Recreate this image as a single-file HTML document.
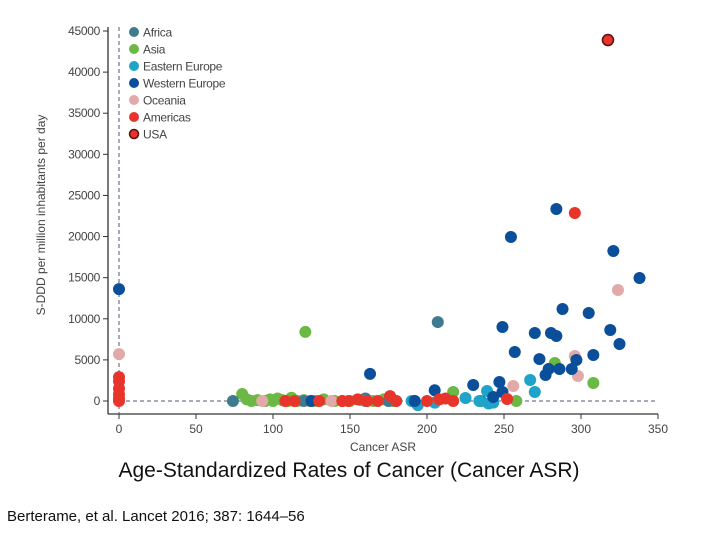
<!DOCTYPE html>
<html><head><meta charset="utf-8">
<style>
body{margin:0;background:#fff;width:720px;height:540px;overflow:hidden;font-family:"Liberation Sans",sans-serif;}
svg{position:absolute;left:0;top:0;}
#title{position:absolute;left:0;width:698px;top:459px;text-align:center;font-size:21px;color:#111;}
#cite{position:absolute;left:7px;top:508px;font-size:15px;color:#111;}
</style></head>
<body>
<svg id="chart" width="720" height="540" xmlns="http://www.w3.org/2000/svg"></svg>
<div id="title">Age-Standardized Rates of Cancer (Cancer ASR)</div>
<div id="cite">Berterame, et al. Lancet 2016; 387: 1644–56</div>
<script>
const regions=["Africa","Asia","Eastern Europe","Western Europe","Oceania","Americas","USA"];
const colors=["#3e7b8e","#6bb944","#1ea4c9","#0b4f9b","#e2a9a9","#e8352b","#e8352b"];
const africaX=[74,120,175,192,207,160,235];
const africaY=[0,0,0,0,9600,300,0];
const asiaX=[121,80,83,86,90,95,98,100,103,106,110,112,116,120,124,128,133,140,145,150,157,165,172,178,217,283,308,258];
const asiaY=[8400,850,200,0,100,0,200,0,300,100,0,400,0,100,0,0,200,0,0,0,100,0,200,0,1100,4620,2190,0];
const eeX=[194,160,180,225,234,239,240,267,270,243,190,205];
const eeY=[-500,0,0,360,0,1220,-300,2550,1100,-200,0,-200];
const weX=[0,163,205,284,254.5,321,338,288,305,249,270,280.5,284,319,325,257,273,308,297,277,279,286,294,230,247,243,249,125,192];
const weY=[13600,3300,1300,23350,19950,18240,14960,11190,10700,9000,8270,8270,7900,8630,6930,5960,5100,5590,4990,3160,3890,3890,3890,1950,2310,490,1100,0,0];
const ocX=[0,93,138,256,296,298,324];
const ocY=[5700,0,0,1820,5470,3040,13500];
const amX=[0,0,0,0,0,0,108,114,130,149,161,176,180,200,208,217,252,296,155,168,145,212];
const amY=[2900,2400,1500,800,300,0,0,0,0,0,0,600,0,0,200,0,240,22860,200,0,0,300];
const usaX=[317.5];
const usaY=[43900];
const xTicks=[0,50,100,150,200,250,300,350];
const yTicks=[0,5000,10000,15000,20000,25000,30000,35000,40000,45000];
const NS="http://www.w3.org/2000/svg";
const svg=document.getElementById('chart');
const sx=v=>119+v*(539/350);
const sy=v=>401-v*(370/45000);
function el(t,a,txt){const e=document.createElementNS(NS,t);for(const k in a)e.setAttribute(k,a[k]);if(txt!==undefined)e.textContent=txt;svg.appendChild(e);return e;}
let e;
e=el('line',{x1:108,y1:27,x2:108,y2:414,stroke:'#333','stroke-width':1.3});

e=el('line',{x1:108,y1:414,x2:658,y2:414,stroke:'#333','stroke-width':1.3});

e=el('line',{x1:119,y1:27,x2:119,y2:414,stroke:'#557','stroke-width':1,'stroke-dasharray':'4,3'});

e=el('line',{x1:119,y1:sy(0),x2:658,y2:sy(0),stroke:'#557','stroke-width':1,'stroke-dasharray':'4,3'});

yTicks.forEach(t=>{
 e=el('line',{x1:103,y1:sy(t),x2:108,y2:sy(t),stroke:'#333'});
 
 e=el('text',{x:100,y:sy(t)+4,'text-anchor':'end','font-size':12,fill:'#444','letter-spacing':'-0.3'},t);
 
});
xTicks.forEach(t=>{
 e=el('line',{x1:sx(t),y1:414,x2:sx(t),y2:419,stroke:'#333'});
 
 e=el('text',{x:sx(t),y:433,'text-anchor':'middle','font-size':12,fill:'#444'},t);
 
});
e=el('text',{x:383,y:451,'text-anchor':'middle','font-size':12,fill:'#444'},'Cancer ASR');

e=el('text',{x:45,y:215,'text-anchor':'middle','font-size':12,fill:'#444',transform:'rotate(-90 45 215)'},'S-DDD per million inhabitants per day');

const series=[[africaX,africaY],[asiaX,asiaY],[eeX,eeY],[weX,weY],[ocX,ocY],[amX,amY],[usaX,usaY]];
const order=[1,0,2,4,3,5,6];
order.forEach(i=>{
 const [xs,ys]=series[i];
 xs.forEach((x,j)=>{
  const a={cx:sx(x),cy:sy(ys[j]),r:6,fill:colors[i]};
  if(i===6){a.stroke='#5a1010';a['stroke-width']=1.5;a.r=5.5;}
  e=el('circle',a);
  
  
 });
});
regions.forEach((r,i)=>{
 const y=32+i*17;
 const a={cx:134,cy:y,r:5,fill:colors[i]};
 if(i===6){a.stroke='#5a1010';a['stroke-width']=1.5;a.r=4.5;}
 e=el('circle',a);
 
 e=el('text',{x:143,y:y+4.5,'font-size':12,fill:'#444','letter-spacing':'-0.3'},r);
 
});
</script>
</body></html>
